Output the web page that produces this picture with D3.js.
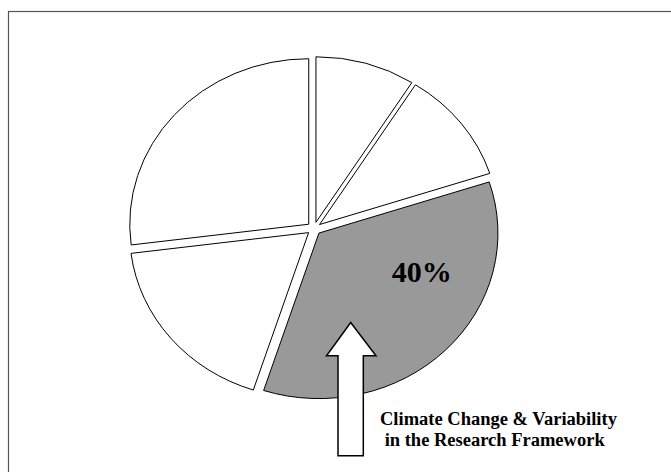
<!DOCTYPE html>
<html>
<head>
<meta charset="utf-8">
<script src="https://cdn.jsdelivr.net/npm/d3@7"></script>
<style>
  html, body { margin: 0; padding: 0; background: #fff; }
  svg { display: block; }
</style>
</head>
<body>
<svg id="chart" width="671" height="472"></svg>
<script>
// ---- data ----
const categories = ["Segment 1", "Segment 2", "Climate Change & Variability", "Segment 4", "Segment 5"];
const values = [9, 11, 35, 18, 27];
const highlight = "Climate Change & Variability";
const sliceLabel = "40%";
const noteLines = ["Climate Change & Variability", " in the Research Framework"];

// ---- layout ----
const W = 671, H = 472;
const cx = 314, cy = 228.5, rx = 179, ry = 165.5, explode = 7;

const svg = d3.select("#chart");

// frame
svg.append("rect")
  .attr("x", 8.5).attr("y", 11.5).attr("width", 700).attr("height", 500)
  .attr("fill", "none").attr("stroke", "#555").attr("stroke-width", 1.2);

const data = categories.map((c, i) => ({ name: c, value: values[i] }));
const pie = d3.pie().sort(null).value(d => d.value).startAngle(0).endAngle(2 * Math.PI);
const arcs = pie(data);
const arc = d3.arc().innerRadius(0).outerRadius(rx);

const g = svg.append("g")
  .attr("transform", `translate(${cx},${cy}) scale(1,${ry / rx})`);

g.selectAll("path.slice")
  .data(arcs)
  .join("path")
  .attr("class", "slice")
  .attr("d", arc)
  .attr("transform", d => {
    const m = (d.startAngle + d.endAngle) / 2;
    return `translate(${Math.sin(m) * explode},${-Math.cos(m) * explode})`;
  })
  .attr("fill", d => d.data.name === highlight ? "#999999" : "#ffffff")
  .attr("stroke", "#000")
  .attr("stroke-width", 1)
  .attr("vector-effect", "non-scaling-stroke");

// percentage label
svg.append("text")
  .attr("x", 421.7).attr("y", 281.7)
  .attr("text-anchor", "middle")
  .attr("font-family", "Liberation Serif, Times New Roman, serif")
  .attr("font-weight", "bold").attr("font-size", 30)
  .attr("fill", "#000")
  .text(sliceLabel);

// arrow
const arrowPts = [
  [350.7, 322.5], [376, 355.7], [363.3, 355.7], [363.3, 455.7],
  [338, 455.7], [338, 355.7], [326.5, 355.7]
];
svg.append("path")
  .attr("d", d3.line()(arrowPts) + "Z")
  .attr("fill", "#fff").attr("stroke", "#000").attr("stroke-width", 1.5)
  .attr("stroke-linejoin", "miter");

// note text
const note = svg.append("text")
  .attr("font-family", "Liberation Serif, Times New Roman, serif")
  .attr("font-weight", "bold").attr("font-size", 18.5)
  .attr("fill", "#000")
  .attr("xml:space", "preserve")
  .style("white-space", "pre");
note.append("tspan").attr("x", 380).attr("y", 425).text(noteLines[0]);
note.append("tspan").attr("x", 380).attr("y", 445.7).text(noteLines[1]);
</script>
</body>
</html>
